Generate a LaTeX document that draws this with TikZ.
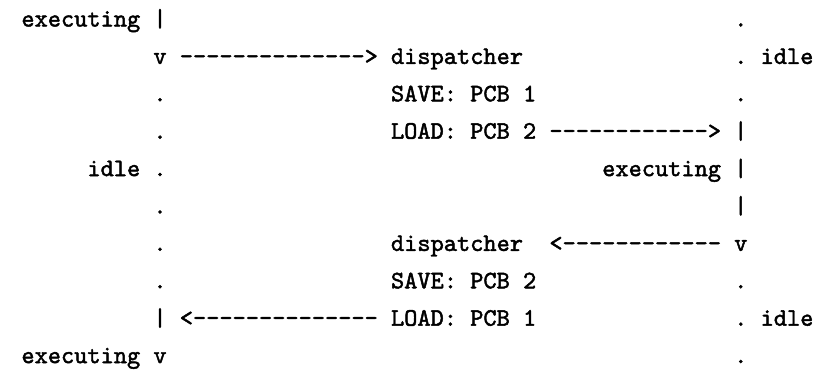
\documentclass[tikz,border=0pt]{standalone}
\usepackage{fontspec}
\newfontfamily\asciitt{lmmono10-regular}[Extension=.otf,Ligatures=TeXOff,FakeBold=1.8]
\begin{document}
\begin{tikzpicture}[x=13.2pt,y=-37.4pt,
  txt/.style={anchor=base west,inner sep=0pt,outer sep=0pt,
    font=\asciitt\fontsize{25.15pt}{30pt}\selectfont\frenchspacing}]
% page frame: column 0 starts at x=0, row 0 sits on y=0
\useasboundingbox (-21.4pt,26.5pt) rectangle (812.6pt,-348.5pt);

% row 0
\node[txt] (exA)   at (0,0)  {executing};
\node[txt] (barA)  at (10,0) {|};
\node[txt] (rdA)   at (54,0) {.};
% row 1
\node[txt] (vA)    at (10,1) {v};
\node[txt] (arA)   at (12,1) {-------------->};
\node[txt] (dispA) at (28,1) {dispatcher};
\node[txt] (rdB)   at (54,1) {.};
\node[txt] (idA)   at (56,1) {idle};
% row 2
\node[txt] (ldA)   at (10,2) {.};
\node[txt] (svA)   at (28,2) {SAVE: PCB 1};
\node[txt] (rdC)   at (54,2) {.};
% row 3
\node[txt] (ldB)   at (10,3) {.};
\node[txt] (ldPA)  at (28,3) {LOAD: PCB 2};
\node[txt] (arB)   at (40,3) {------------>};
\node[txt] (rbA)   at (54,3) {|};
% row 4
\node[txt] (idB)   at (5,4)  {idle};
\node[txt] (ldC)   at (10,4) {.};
\node[txt] (exB)   at (44,4) {executing};
\node[txt] (rbB)   at (54,4) {|};
% row 5
\node[txt] (ldD)   at (10,5) {.};
\node[txt] (rbC)   at (54,5) {|};
% row 6
\node[txt] (ldE)   at (10,6) {.};
\node[txt] (dispB) at (28,6) {dispatcher};
\node[txt] (arC)   at (40,6) {<------------};
\node[txt] (rvA)   at (54,6) {v};
% row 7
\node[txt] (ldF)   at (10,7) {.};
\node[txt] (svB)   at (28,7) {SAVE: PCB 2};
\node[txt] (rdD)   at (54,7) {.};
% row 8
\node[txt] (barB)  at (10,8) {|};
\node[txt] (arD)   at (12,8) {<--------------};
\node[txt] (ldPB)  at (28,8) {LOAD: PCB 1};
\node[txt] (rdE)   at (54,8) {.};
\node[txt] (idC)   at (56,8) {idle};
% row 9
\node[txt] (exC)   at (0,9)  {executing};
\node[txt] (vB)    at (10,9) {v};
\node[txt] (rdF)   at (54,9) {.};
\end{tikzpicture}
\end{document}
